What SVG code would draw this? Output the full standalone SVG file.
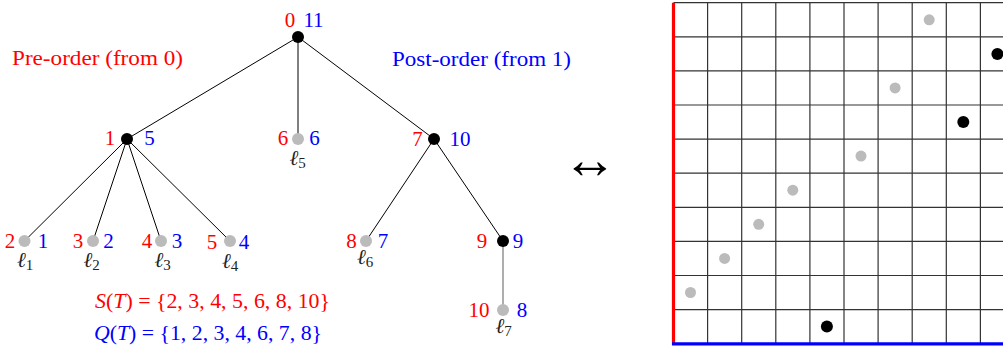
<svg xmlns="http://www.w3.org/2000/svg" width="1003" height="347" viewBox="0 0 1003 347">
<style>
text{font-family:"Liberation Serif","Times New Roman",serif;font-size:21px}
.r{fill:#ff0000;text-anchor:middle}
.b{fill:#0000ff;text-anchor:middle}
.l{fill:#222;text-anchor:middle;font-style:italic}
.l tspan{font-style:normal;font-size:15px}
.e{stroke:#000;stroke-width:1;fill:none}
.inner{fill:#000}
.leaf{fill:#bbbbbb}
.g{stroke:#333;stroke-width:1.2}
.i{font-style:italic}
.arr{font-family:"Liberation Serif",serif;font-size:55px;fill:#000}
</style>
<rect width="1003" height="347" fill="#fff"/>
<g id="connectors">
<line class="e" x1="298" y1="37" x2="127" y2="139"/>
<line class="e" x1="298" y1="37" x2="298" y2="139"/>
<line class="e" x1="298" y1="37" x2="434" y2="139"/>
<line class="e" x1="127" y1="139" x2="24.5" y2="241"/>
<line class="e" x1="127" y1="139" x2="93" y2="241"/>
<line class="e" x1="127" y1="139" x2="161" y2="241"/>
<line class="e" x1="127" y1="139" x2="230" y2="241"/>
<line class="e" x1="434" y1="139" x2="366" y2="241"/>
<line class="e" x1="434" y1="139" x2="503" y2="241"/>
<line x1="503" y1="241" x2="503" y2="310" stroke="#777" stroke-width="1.2"/>
</g>
<g id="n0"><circle class="inner" cx="298" cy="37" r="6"/><text class="r" x="290" y="27">0</text><text class="b" x="313.5" y="27">11</text></g>
<g id="n1"><circle class="inner" cx="127" cy="139" r="6"/><text class="r" x="110" y="145">1</text><text class="b" x="149.5" y="145">5</text></g>
<g id="l5"><circle class="leaf" cx="298" cy="139" r="6"/><text class="r" x="283" y="145">6</text><text class="b" x="314.5" y="145">6</text><text class="l" x="297.5" y="165">ℓ<tspan dy="3">5</tspan></text></g>
<g id="n7"><circle class="inner" cx="434" cy="139" r="6"/><text class="r" x="417.5" y="146">7</text><text class="b" x="460" y="146">10</text></g>
<g id="l1"><circle class="leaf" cx="24.5" cy="241" r="6"/><text class="r" x="10" y="248">2</text><text class="b" x="43" y="248">1</text><text class="l" x="25" y="267">ℓ<tspan dy="3">1</tspan></text></g>
<g id="l2"><circle class="leaf" cx="93" cy="241" r="6"/><text class="r" x="78" y="248">3</text><text class="b" x="108.5" y="248">2</text><text class="l" x="91.5" y="267">ℓ<tspan dy="3">2</tspan></text></g>
<g id="l3"><circle class="leaf" cx="161" cy="241" r="6"/><text class="r" x="147" y="248">4</text><text class="b" x="177" y="248">3</text><text class="l" x="162.5" y="267">ℓ<tspan dy="3">3</tspan></text></g>
<g id="l4"><circle class="leaf" cx="230" cy="241" r="6"/><text class="r" x="212" y="249">5</text><text class="b" x="244" y="249">4</text><text class="l" x="230" y="268">ℓ<tspan dy="3">4</tspan></text></g>
<g id="l6"><circle class="leaf" cx="366" cy="241" r="6"/><text class="r" x="351.5" y="248">8</text><text class="b" x="383" y="248">7</text><text class="l" x="365" y="264">ℓ<tspan dy="3">6</tspan></text></g>
<g id="n9"><circle class="inner" cx="503" cy="241" r="6"/><text class="r" x="482" y="248">9</text><text class="b" x="518" y="248">9</text></g>
<g id="l7"><circle class="leaf" cx="503" cy="310" r="6"/><text class="r" x="479" y="317">10</text><text class="b" x="522" y="317">8</text><text class="l" x="503.5" y="333">ℓ<tspan dy="3">7</tspan></text></g>
<text x="12" y="65" fill="#ff0000" textLength="171" lengthAdjust="spacingAndGlyphs">Pre-order (from 0)</text>
<text x="392" y="66" fill="#0000ff" textLength="179" lengthAdjust="spacingAndGlyphs">Post-order (from 1)</text>
<text x="95" y="308" fill="#ff0000" textLength="235" lengthAdjust="spacingAndGlyphs"><tspan class="i">S</tspan>(<tspan class="i">T</tspan>) = {2, 3, 4, 5, 6, 8, 10}</text>
<text x="94" y="340" fill="#0000ff" textLength="228" lengthAdjust="spacingAndGlyphs"><tspan class="i">Q</tspan>(<tspan class="i">T</tspan>) = {1, 2, 3, 4, 6, 7, 8}</text>
<text class="arr" x="590" y="178" text-anchor="middle">↔</text>
<g id="grid">
<g class="g">
<line x1="673.5" y1="2.7" x2="1003" y2="2.7"/>
<line x1="673.5" y1="36.8" x2="1003" y2="36.8"/>
<line x1="673.5" y1="70.9" x2="1003" y2="70.9"/>
<line x1="673.5" y1="105" x2="1003" y2="105"/>
<line x1="673.5" y1="139.1" x2="1003" y2="139.1"/>
<line x1="673.5" y1="173.2" x2="1003" y2="173.2"/>
<line x1="673.5" y1="207.3" x2="1003" y2="207.3"/>
<line x1="673.5" y1="241.4" x2="1003" y2="241.4"/>
<line x1="673.5" y1="275.5" x2="1003" y2="275.5"/>
<line x1="673.5" y1="309.6" x2="1003" y2="309.6"/>
<line x1="707.6" y1="2.7" x2="707.6" y2="343.7"/>
<line x1="741.7" y1="2.7" x2="741.7" y2="343.7"/>
<line x1="775.8" y1="2.7" x2="775.8" y2="343.7"/>
<line x1="809.9" y1="2.7" x2="809.9" y2="343.7"/>
<line x1="844" y1="2.7" x2="844" y2="343.7"/>
<line x1="878.1" y1="2.7" x2="878.1" y2="343.7"/>
<line x1="912.2" y1="2.7" x2="912.2" y2="343.7"/>
<line x1="946.3" y1="2.7" x2="946.3" y2="343.7"/>
<line x1="980.4" y1="2.7" x2="980.4" y2="343.7"/>
</g>
<line x1="673.5" y1="2.7" x2="673.5" y2="345" stroke="#ff0000" stroke-width="3.2"/>
<line x1="672" y1="343.8" x2="1003" y2="343.8" stroke="#0000ff" stroke-width="3.2"/>
<g class="leaf">
<circle cx="690.5" cy="292.5" r="5.5"/>
<circle cx="724.6" cy="258.4" r="5.5"/>
<circle cx="758.7" cy="224.3" r="5.5"/>
<circle cx="792.8" cy="190.2" r="5.5"/>
<circle cx="861" cy="156.1" r="5.5"/>
<circle cx="895.1" cy="87.9" r="5.5"/>
<circle cx="929.2" cy="19.8" r="5.5"/>
</g>
<g class="inner">
<circle cx="826.9" cy="326.6" r="6"/>
<circle cx="963.3" cy="122" r="6"/>
<circle cx="997.4" cy="53.9" r="6"/>
</g>
</g>
</svg>
